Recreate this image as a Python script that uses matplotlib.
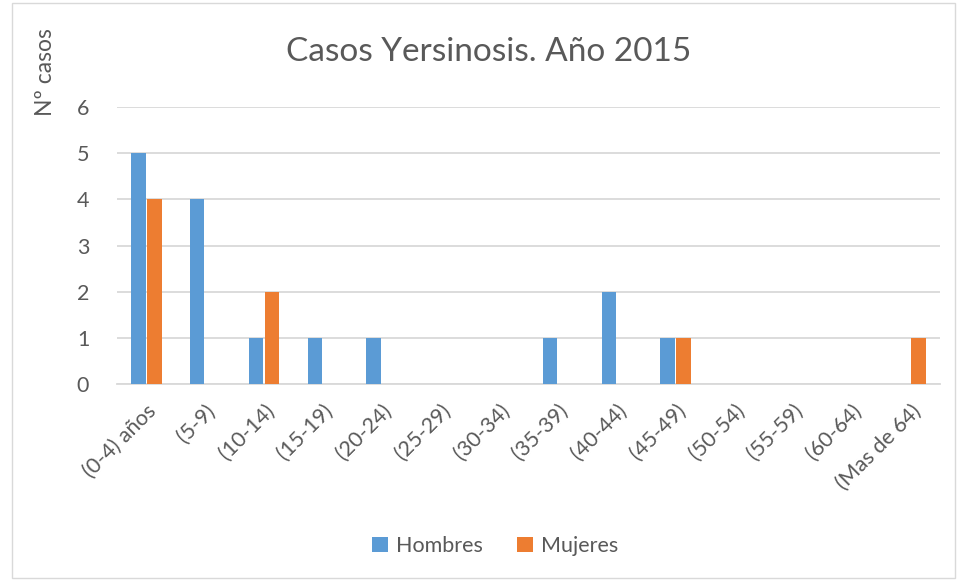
import matplotlib
matplotlib.use("Agg")
import matplotlib.pyplot as plt
import numpy as np
from matplotlib.patches import Rectangle

categories = ["(0-4) años", "(5-9)", "(10-14)", "(15-19)", "(20-24)", "(25-29)", "(30-34)",
              "(35-39)", "(40-44)", "(45-49)", "(50-54)", "(55-59)", "(60-64)", "(Mas de 64)"]
hombres = [5, 4, 1, 1, 1, 0, 0, 1, 2, 1, 0, 0, 0, 0]
mujeres = [4, 0, 2, 0, 0, 0, 0, 0, 0, 1, 0, 0, 0, 1]

plt.rcParams['font.family'] = ['Lato', 'DejaVu Sans']
gray = "#595959"

fig = plt.figure(figsize=(9.57, 5.81), dpi=100)
fig.patches.append(Rectangle((12/957, 3/581), 1 - 14/957, 1 - 6/581, transform=fig.transFigure,
                             fill=False, edgecolor="#d9d9d9", linewidth=1))
ax = fig.add_axes([117/957, 1 - 384/581, (940 - 117)/957, (384 - 107)/581])

x = np.arange(len(categories))
off = 0.27
w = 0.245
ax.bar(x - off/2, hombres, w, color="#5b9bd5", linewidth=0, label="Hombres", zorder=3)
ax.bar(x + off/2, mujeres, w, color="#ed7d31", linewidth=0, label="Mujeres", zorder=3)

ax.set_xlim(-0.5, len(categories) - 0.5)
ax.set_ylim(0, 6)
ax.set_yticks(range(7))
ax.yaxis.grid(True, color="#d9d9d9", linewidth=1.3, zorder=0)
ax.set_axisbelow(True)
for s in ["top", "right", "left"]:
    ax.spines[s].set_visible(False)
ax.spines["bottom"].set_color("#d9d9d9")
ax.spines["bottom"].set_linewidth(1.3)
ax.tick_params(axis="both", length=0, colors=gray, labelsize=15.5)
ax.tick_params(axis="y", pad=20)
ax.set_xticks(x)
ax.set_xticklabels(categories, rotation=45, ha="right", rotation_mode="anchor")
ax.tick_params(axis="x", pad=12)

fig.text(489/957, 1 - 52/581, "Casos Yersinosis. Año 2015", ha="center", va="center",
         fontsize=24, color=gray)
fig.text(46/957, 1 - 72/581, "Nº casos", rotation=90, ha="center", va="center",
         fontsize=16.5, color=gray)

leg = fig.legend(loc="center", bbox_to_anchor=(495/957, 1 - 546/581), ncol=2, frameon=False,
                 fontsize=15.5, handlelength=0.75, handleheight=0.75, columnspacing=1.6,
                 handletextpad=0.35, labelcolor=gray)

fig.savefig("out.png", dpi=100)
